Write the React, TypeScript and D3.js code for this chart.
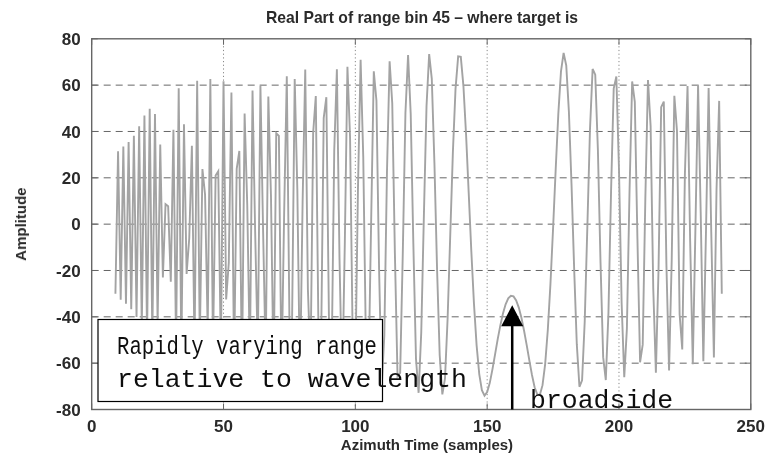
import React from "react";
import * as d3 from "d3";

const chartTitle = "Real Part of range bin 45 – where target is";
const xAxisLabel = "Azimuth Time (samples)";
const yAxisLabel = "Amplitude";
const xTickValues = [0, 50, 100, 150, 200, 250];
const yTickValues = [-80, -60, -40, -20, 0, 20, 40, 60, 80];
const xGridValues = [50, 100, 150, 200];
const yGridValues = [-60, -40, -20, 0, 20, 40, 60];

// azimuth samples 9 .. 239
const firstSample = 9;
const realPart = [
  -30.0, 31.5, -32.6, 33.5, -34.4, 35.4, -36.7, 38.2, -40.1, 42.3,
  -44.6, 46.9, -48.8, 49.8, -49.7, 47.5, -42.9, 34.4, -23.0, 8.6,
  7.7, -24.9, 40.7, -53.0, 58.6, -55.8, 43.1, -21.5, -6.1, 33.8,
  -54.7, 61.9, -51.1, 23.8, 12.7, -45.9, 62.6, -53.9, 21.0, 22.8,
  -56.6, 61.7, -32.5, -16.6, 56.8, -61.2, 23.9, 31.6, -64.5, 47.8,
  8.4, -58.7, 57.7, -3.4, -55.3, 59.7, -2.2, -58.8, 55.1, 12.2,
  -66.1, 39.2, 38.1, -66.2, 4.9, 63.8, -41.6, -42.5, 62.6, 15.0,
  -69.2, 9.7, 66.7, -28.0, -60.6, 39.4, 55.3, -45.0, -53.1, 45.8,
  54.8, -41.7, -60.0, 31.9, 66.8, -15.2, -71.2, -8.7, 67.9, 37.4,
  -50.5, -62.0, 15.6, 70.9, 29.2, -51.0, -65.4, 1.5, 66.0, 53.4,
  -19.1, -70.3, -47.8, 22.6, 70.3, 52.2, -12.4, -65.6, -64.2, -12.4,
  48.0, 73.0, 47.7, -8.3, -58.1, -72.8, -46.7, 3.7, 51.0, 73.4,
  62.7, 26.3, -19.5, -56.6, -73.5, -66.7, -40.7, -4.7, 31.1, 58.4,
  72.4, 72.2, 59.6, 38.7, 13.5, -11.8, -34.4, -52.3, -64.7, -71.7,
  -74.0, -72.5, -68.5, -62.7, -56.2, -49.6, -43.7, -38.6, -34.6, -32.0,
  -30.9,
  -31.2, -32.9, -36.0, -40.4, -46.0, -52.2, -58.8, -65.1, -70.4, -73.5,
  -73.6, -69.5, -60.4, -45.7, -25.9, -1.9, 23.8, 47.8, 65.9, 73.9,
  68.5, 48.6, 17.1, -19.3, -51.8, -70.2, -67.4, -42.1, -1.3, 40.8,
  67.0, 64.5, 32.1, -16.6, -57.4, -67.3, -38.4, 14.4, 58.5, 63.7,
  23.9, -33.9, -66.1, -45.1, 14.2, 61.6, 52.8, -6.4, -59.6, -52.0,
  11.2, 62.2, 42.3, -27.8, -64.1, -19.6, 50.5, 52.9, -18.0, -63.2,
  -15.6, 55.4, 40.2, -38.9, -54.1, 21.4, 59.6, -7.4, -60.5, -1.5,
  59.9, 5.0, -59.2, -3.3, 58.8, -3.5, -57.6, 15.0, 53.2, -30.0,
];

const broadsideSample = 159.5;
const arrowTipValue = -35;
const noteLine1 = "Rapidly varying range";
const noteLine2 = "relative to wavelength";
const broadsideLabel = "broadside";

const W = 769;
const H = 456;
const plotLeft = 91.7;
const plotRight = 750.8;
const plotTop = 38.8;
const plotBottom = 409.5;

export default function App() {
  const x = d3.scaleLinear().domain([0, 250]).range([plotLeft, plotRight]);
  const y = d3.scaleLinear().domain([-80, 80]).range([plotBottom, plotTop]);
  const points = realPart.map((v, i) => ({ t: firstSample + i, v }));
  const linePath = d3
    .line<{ t: number; v: number }>()
    .x((d) => x(d.t))
    .y((d) => y(d.v))(points) as string;

  const sans = "'Liberation Sans', Arial, sans-serif";
  const mono = "'Liberation Mono', 'Courier New', monospace";
  const axisColor = "#666";
  const labelColor = "#2a2a2a";
  const tickLen = 6;

  const ax = x(broadsideSample);
  const tipY = y(arrowTipValue);
  const headBase = tipY + 21;

  return (
    <svg
      width={W}
      height={H}
      style={{ position: "absolute", left: 0, top: 0, background: "#fff" }}
    >
      <defs>
        <clipPath id="plotClip">
          <rect x={plotLeft} y={plotTop} width={plotRight - plotLeft} height={plotBottom - plotTop} />
        </clipPath>
        <filter id="soft" x="-5%" y="-5%" width="110%" height="110%">
          <feGaussianBlur stdDeviation="0.55" />
        </filter>
      </defs>
      <rect x={0} y={0} width={W} height={H} fill="#fff" />

      <g filter="url(#soft)">
        {/* grid */}
        {yGridValues.map((v) => (
          <line
            key={"gy" + v}
            x1={plotLeft}
            x2={plotRight}
            y1={y(v)}
            y2={y(v)}
            stroke="#666"
            strokeWidth={1}
            strokeDasharray="7,5"
          />
        ))}
        {xGridValues.map((v) => (
          <line
            key={"gx" + v}
            x1={x(v)}
            x2={x(v)}
            y1={plotTop}
            y2={plotBottom}
            stroke="#888"
            strokeWidth={1}
            strokeDasharray="1.2,2.5"
          />
        ))}

        {/* signal */}
        <g clipPath="url(#plotClip)">
          <path d={linePath} fill="none" stroke="#a3a3a3" strokeWidth={1.9} strokeLinejoin="miter" />
        </g>

        {/* axes box */}
        <rect
          x={plotLeft}
          y={plotTop}
          width={plotRight - plotLeft}
          height={plotBottom - plotTop}
          fill="none"
          stroke={axisColor}
          strokeWidth={1.4}
        />
        {yTickValues.map((v) => (
          <g key={"ty" + v}>
            <line x1={plotLeft} x2={plotLeft + tickLen} y1={y(v)} y2={y(v)} stroke={axisColor} />
            <line x1={plotRight} x2={plotRight - tickLen} y1={y(v)} y2={y(v)} stroke={axisColor} />
            <text
              x={plotLeft - 11}
              y={y(v)}
              dy="0.36em"
              textAnchor="end"
              fontFamily={sans}
              fontSize={17}
              fontWeight="bold"
              fill={labelColor}
            >
              {String(v)}
            </text>
          </g>
        ))}
        {xTickValues.map((v) => (
          <g key={"tx" + v}>
            <line x1={x(v)} x2={x(v)} y1={plotBottom} y2={plotBottom - tickLen} stroke={axisColor} />
            <line x1={x(v)} x2={x(v)} y1={plotTop} y2={plotTop + tickLen} stroke={axisColor} />
            <text
              x={x(v)}
              y={plotBottom + 22}
              textAnchor="middle"
              fontFamily={sans}
              fontSize={17}
              fontWeight="bold"
              fill={labelColor}
            >
              {String(v)}
            </text>
          </g>
        ))}

        {/* titles */}
        <text x={422} y={23} textAnchor="middle" fontFamily={sans} fontSize={15.7} fontWeight="bold" fill={labelColor}>
          {chartTitle}
        </text>
        <text x={427} y={450} textAnchor="middle" fontFamily={sans} fontSize={15} fontWeight="bold" fill={labelColor}>
          {xAxisLabel}
        </text>
        <text
          transform={`translate(26,${(plotTop + plotBottom) / 2}) rotate(-90)`}
          textAnchor="middle"
          fontFamily={sans}
          fontSize={15}
          fontWeight="bold"
          fill={labelColor}
        >
          {yAxisLabel}
        </text>

        {/* note box */}
        <rect x={98} y={319.5} width={284.5} height={82} fill="#fff" stroke="#000" strokeWidth={1.2} />
        <text
          x={117}
          y={354}
          fontFamily={mono}
          fontSize={26.5}
          fill="#111"
          textLength={260}
          lengthAdjust="spacingAndGlyphs"
        >
          {noteLine1}
        </text>
        <text x={117} y={387} fontFamily={mono} fontSize={26.5} fill="#111">
          {noteLine2}
        </text>

        {/* broadside arrow */}
        <line x1={ax} x2={ax} y1={plotBottom} y2={headBase - 1} stroke="#000" strokeWidth={2.5} />
        <path
          d={`M${ax},${tipY} L${ax - 11},${headBase} L${ax + 11},${headBase} Z`}
          fill="#000"
        />
        <text x={530} y={408} fontFamily={mono} fontSize={26.5} fill="#111">
          {broadsideLabel}
        </text>
      </g>
    </svg>
  );
}
